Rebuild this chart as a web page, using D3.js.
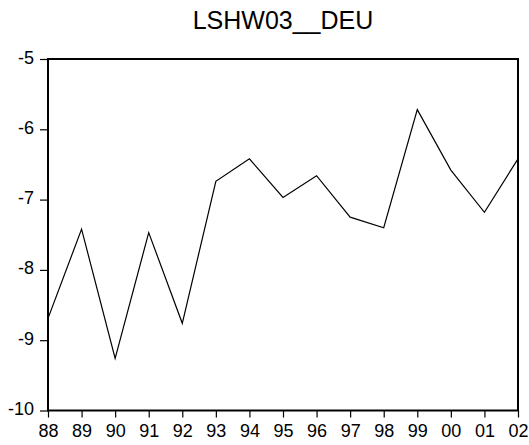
<!DOCTYPE html>
<html>
<head>
<meta charset="utf-8">
<script src="https://cdn.jsdelivr.net/npm/d3@7/dist/d3.min.js"></script>
<style>
  html, body { margin: 0; padding: 0; background: #fff; }
  svg { display: block; }
  text { font-family: "Liberation Sans", Arial, sans-serif; fill: #000; }
</style>
</head>
<body>
<script>
const title = "LSHW03__DEU";
const years = ["88","89","90","91","92","93","94","95","96","97","98","99","00","01","02"];
const values = [-8.69, -7.42, -9.26, -7.47, -8.76, -6.74, -6.42, -6.97, -6.66, -7.25, -7.40, -5.72, -6.58, -7.18, -6.42];
const yTicks = [-5, -6, -7, -8, -9, -10];
const yTickLabels = ["-5", "-6", "-7", "-8", "-9", "-10"];

const W = 529, H = 445;
const m = { left: 48, right: 11, top: 59, bottom: 34.5 };

const svg = d3.select("body").append("svg").attr("width", W).attr("height", H);

const x = d3.scalePoint().domain(years).range([m.left, W - m.right]);
const y = d3.scaleLinear().domain([-10, -5]).range([H - m.bottom, m.top]);

// title
svg.append("text")
  .attr("x", (m.left + W - m.right) / 2)
  .attr("y", 28.5)
  .attr("text-anchor", "middle")
  .style("font-size", "25px")
  .text(title);

// y axis
const gy = svg.append("g").attr("transform", `translate(${m.left},0)`)
  .call(d3.axisLeft(y).tickValues(yTicks).tickSize(8).tickSizeOuter(0).tickPadding(6)
    .tickFormat((d, i) => yTickLabels[i]));
gy.select(".domain").remove();
gy.selectAll(".tick line").attr("stroke", "#000").attr("stroke-width", 1.2);
gy.selectAll(".tick text")
  .attr("dy", null)
  .attr("y", 4)
  .style("font-size", "18px")
  .style("font-family", "'Liberation Sans', Arial, sans-serif");

// x axis
const gx = svg.append("g").attr("transform", `translate(0,${H - m.bottom})`)
  .call(d3.axisBottom(x).tickSize(7).tickSizeOuter(0).tickPadding(5));
gx.select(".domain").remove();
gx.selectAll(".tick line").attr("stroke", "#000").attr("stroke-width", 1.2);
gx.selectAll(".tick text")
  .attr("dy", null)
  .attr("y", 26)
  .style("font-size", "18px")
  .style("font-family", "'Liberation Sans', Arial, sans-serif");

// series line
const line = d3.line().x((d, i) => x(years[i])).y(d => y(d));
svg.append("path")
  .datum(values)
  .attr("fill", "none")
  .attr("stroke", "#000")
  .attr("stroke-width", 1.2)
  .attr("stroke-linejoin", "miter")
  .attr("d", line);

// frame
svg.append("rect")
  .attr("x", m.left)
  .attr("y", m.top)
  .attr("width", W - m.right - m.left)
  .attr("height", H - m.bottom - m.top)
  .attr("fill", "none")
  .attr("stroke", "#000")
  .attr("stroke-width", 2);
</script>
</body>
</html>
